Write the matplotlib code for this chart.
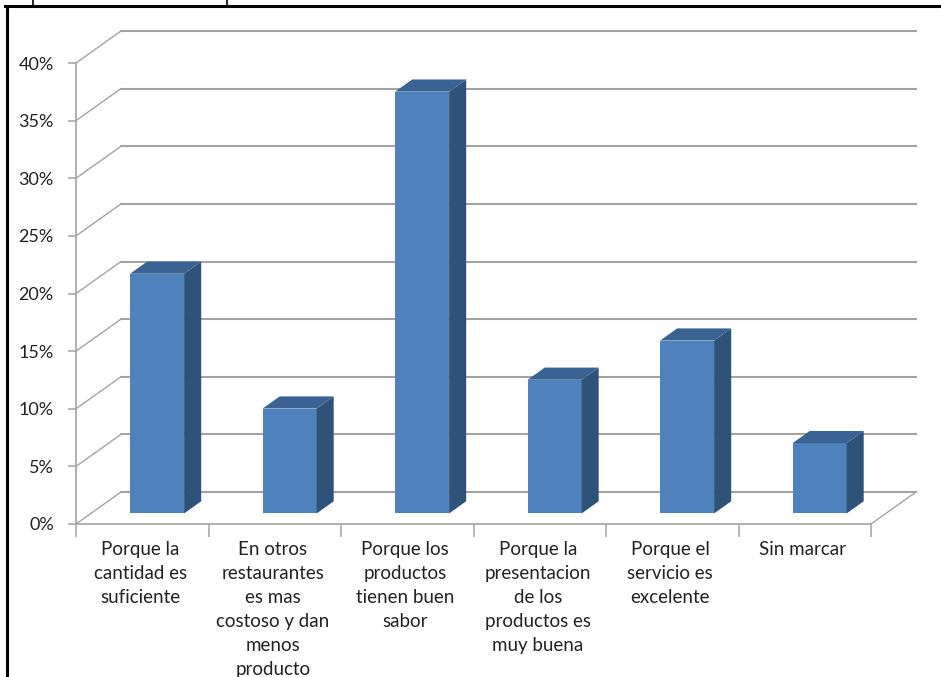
import matplotlib
matplotlib.use('Agg')
import matplotlib.pyplot as plt
from matplotlib.lines import Line2D
from matplotlib.patches import Polygon

plt.rcParams['font.family'] = ['Lato', 'DejaVu Sans']

categorias = ['Porque la\ncantidad es\nsuficiente',
              'En otros\nrestaurantes\nes mas\ncostoso y dan\nmenos\nproducto',
              'Porque los\nproductos\ntienen buen\nsabor',
              'Porque la\npresentacion\nde los\nproductos es\nmuy buena',
              'Porque el\nservicio es\nexcelente',
              'Sin marcar']
valores = [20.8, 9.1, 36.6, 11.6, 15.0, 6.1]
ticks_y = [0, 5, 10, 15, 20, 25, 30, 35, 40]

W, H = 941, 677
GRIS = '#a3a3a3'
# fondo 3D: desplazamiento de la pared trasera (categorias, %)
DX = 45 / 132.5
DY = 32 / 11.525
BAR_W = 54 / 132.5
D_INI, D_FIN = 0.33, 0.71


def proy(x, y, d):
    return x + d * DX, y + d * DY


fig = plt.figure(figsize=(W / 100, H / 100), dpi=100)
ax = fig.add_axes([76 / W, 1 - 524 / H, (871 - 76) / W, (524 - 63) / H])
ax.set_xlim(0, 6)
ax.set_ylim(0, 40)
for s in ['top', 'right']:
    ax.spines[s].set_visible(False)
for s in ['left', 'bottom']:
    ax.spines[s].set_color(GRIS)
    ax.spines[s].set_linewidth(1.2)

# rejilla: diagonal de la pared lateral y linea horizontal atras
for v in ticks_y:
    x1, y1 = proy(0, v, 1)
    x2, y2 = proy(6, v, 1)
    ax.plot([0, x1], [v, y1], color=GRIS, lw=1.0, clip_on=False, zorder=1)
    ax.plot([x1, x2], [y1, y2], color=GRIS, lw=1.5, clip_on=False, zorder=1)
# borde derecho del piso
x1, y1 = proy(6, 0, 1)
ax.plot([6, x1], [0, y1], color=GRIS, lw=1.0, clip_on=False, zorder=1)

# barras
for i, v in enumerate(valores):
    xc = i + 0.5 - BAR_W / 2
    x0, y0 = proy(xc, 0, D_INI)
    ax.bar(x0, v, width=BAR_W, bottom=y0, align='edge', color='#4f81bd',
           zorder=3, clip_on=False)
    xr = x0 + BAR_W
    yt = y0 + v
    fx = (D_FIN - D_INI) * DX
    fy = (D_FIN - D_INI) * DY
    ax.add_patch(Polygon([(xr, y0), (xr + fx, y0 + fy), (xr + fx, yt + fy), (xr, yt)],
                         facecolor='#2f5279', edgecolor='none', zorder=3, clip_on=False))
    ax.add_patch(Polygon([(x0, yt), (x0 + fx, yt + fy), (xr + fx, yt + fy), (xr, yt)],
                         facecolor='#3a6393', edgecolor='none', zorder=3, clip_on=False))

ax.set_yticks(ticks_y)
ax.set_yticklabels([f'{v}%' for v in ticks_y])
ax.tick_params(axis='y', length=6, width=1.1, color=GRIS, labelsize=13,
               labelcolor='#222222', pad=10)
ax.set_xticks(range(7))
ax.set_xticklabels([])
ax.set_xticks([i + 0.485 for i in range(6)], minor=True)
ax.set_xticklabels(categorias, minor=True, fontsize=13.5, color='#222222',
                   linespacing=1.5, va='top')
ax.tick_params(axis='x', which='major', length=9, width=1.1, color=GRIS)
ax.tick_params(axis='x', which='minor', length=0, pad=12)

# marco negro y restos del recuadro superior
marco = [([6.5, 6.5], [H, 6]), ([5, W], [6, 6]), ([33, 33], [0, 5]), ([227, 227], [0, 5])]
for xs, ys in marco:
    lw = 2.2 if xs[0] < 10 else 1.2
    fig.add_artist(Line2D([x / W for x in xs], [1 - y / H for y in ys], color='black',
                          lw=lw, transform=fig.transFigure))

fig.savefig('out.png', dpi=100)
